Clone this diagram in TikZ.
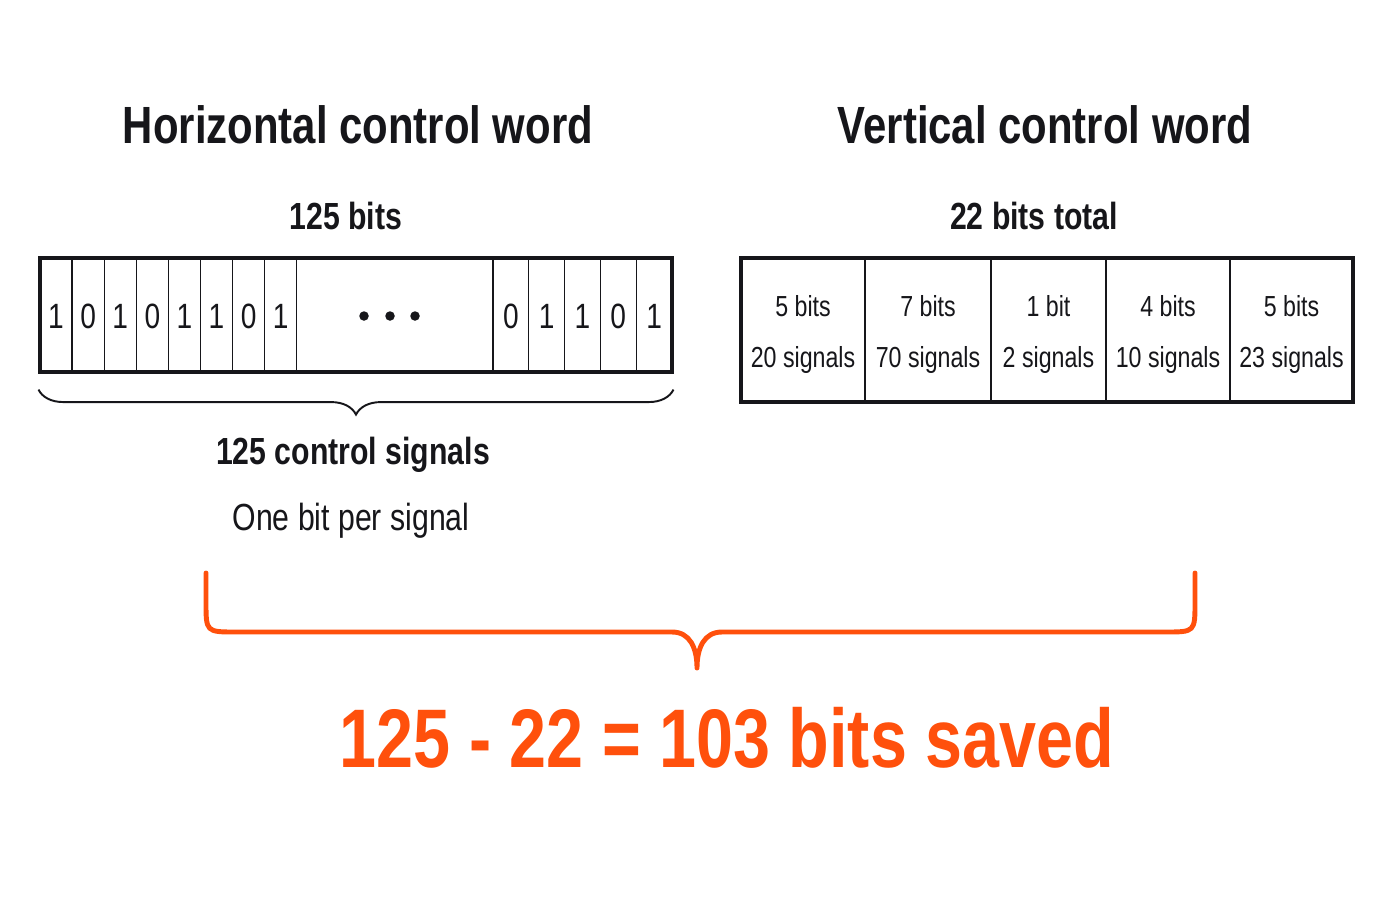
\documentclass[tikz,border=0pt]{standalone}
\usepackage{fontspec}
\setmainfont[FakeStretch=0.8]{Liberation Sans}
\usepackage{xcolor}
\usetikzlibrary{positioning,calc,decorations.pathreplacing}
\definecolor{saveorange}{RGB}{255,80,12}
\definecolor{inkblack}{RGB}{22,22,26}

\begin{document}
\begin{tikzpicture}[
    x=0.02cm, y=-0.02cm,
    title/.style={
        font=\fontsize{29.8}{34}\selectfont\bfseries,
        color=inkblack
    },
    subtitle/.style={
        font=\fontsize{21.5}{26}\selectfont\bfseries,
        color=inkblack
    },
    note/.style={
        font=\fontsize{21.5}{26}\selectfont,
        color=inkblack
    },
    word/.style={
        rectangle,
        draw=inkblack,
        line width=1.8pt,
        inner sep=0pt
    },
    bit/.style={
        rectangle,
        draw=inkblack,
        line width=0.7pt,
        minimum height=2.28cm,
        inner sep=0pt,
        font=\fontsize{20}{24}\selectfont,
        color=inkblack
    },
    field/.style={
        rectangle,
        draw=inkblack,
        line width=1.2pt,
        minimum height=2.88cm,
        inner sep=0pt
    },
    fieldtext/.style={
        align=center,
        inner sep=0pt,
        font=\fontsize{16.5}{29.5}\selectfont,
        color=inkblack
    },
    dot/.style={
        circle,
        fill=inkblack,
        inner sep=0pt,
        minimum size=0.19cm
    },
    brace/.style={
        decorate,
        decoration={brace,mirror,amplitude=0.5cm},
        line width=1.1pt,
        color=inkblack
    },
    result/.style={
        font=\fontsize{47.3}{54}\selectfont\bfseries,
        color=saveorange
    }
]

% Fond et cadre
\fill[white] (0,0) rectangle (1400,900);
\useasboundingbox (0,0) rectangle (1400,900);

% Titres
\node[title] (htitle) at (358,125) {Horizontal control word};
\node[title] (vtitle) at (1045,125) {Vertical control word};
\node[subtitle] (hbits) at (346,216) {125 bits};
\node[subtitle] (vbits) at (1034,216) {22 bits total};

% Mot horizontal : un bit par signal
\foreach \d [count=\i] in {1,0,1,0,1,1,0,1}
    \node[bit, minimum width=0.642cm] (hl\i) at ({40+32.1*(\i-0.5)},316) {\d};
\foreach \d [count=\i] in {0,1,1,0,1}
    \node[bit, minimum width=0.716cm] (hr\i) at ({493+35.8*(\i-0.5)},316) {\d};
\node[dot] (dot1) at (364,316) {};
\node[dot] (dot2) at (390,316) {};
\node[dot] (dot3) at (415,316) {};
\node[word, minimum width=12.64cm, minimum height=2.28cm] (hword) at (356,315) {};

% Accolade sous le mot horizontal
\draw[brace] (hword.south west) ++(0,16) coordinate (hbl) -- ($(hword.south east)+(0,16)$) coordinate (hbr);
\node[subtitle] (hsig) at (353,455) {125 control signals};
\node[note] (hnote) at (351,521) {One bit per signal};

% Mot vertical : champs codes
\node[field, minimum width=2.48cm] (f1) at (803,330) {};
\node[field, minimum width=2.52cm] (f2) at (928,330) {};
\node[field, minimum width=2.30cm] (f3) at (1048.5,330) {};
\node[field, minimum width=2.48cm] (f4) at (1168,330) {};
\node[field, minimum width=2.46cm] (f5) at (1291.5,330) {};
\node[word, minimum width=12.24cm, minimum height=2.88cm] (vword) at (1047,330) {};
\node[fieldtext] (t1) at ([yshift=-0.09cm]f1.center) {5 bits\\20 signals};
\node[fieldtext] (t2) at ([yshift=-0.09cm]f2.center) {7 bits\\70 signals};
\node[fieldtext] (t3) at ([yshift=-0.09cm]f3.center) {1 bit\\2 signals};
\node[fieldtext] (t4) at ([yshift=-0.09cm]f4.center) {4 bits\\10 signals};
\node[fieldtext] (t5) at ([yshift=-0.09cm]f5.center) {5 bits\\23 signals};

% Grande accolade orange
\coordinate (bl) at (206,573);
\coordinate (br) at (1195,573);
\coordinate (tip) at (697,668);
\draw[saveorange, line width=2.8pt, line cap=round, line join=round]
    (bl) -- (206,602) .. controls (206,632) .. (236,632) -- (672,632)
    .. controls (690,632) and (697,648) .. (tip)
    .. controls (697,648) and (704,632) .. (722,632) -- (1165,632)
    .. controls (1195,632) .. (1195,602) -- (br);

% Resultat
\node[result] (saved) at (727,738) {125 - 22 = 103 bits saved};

\end{tikzpicture}
\end{document}
